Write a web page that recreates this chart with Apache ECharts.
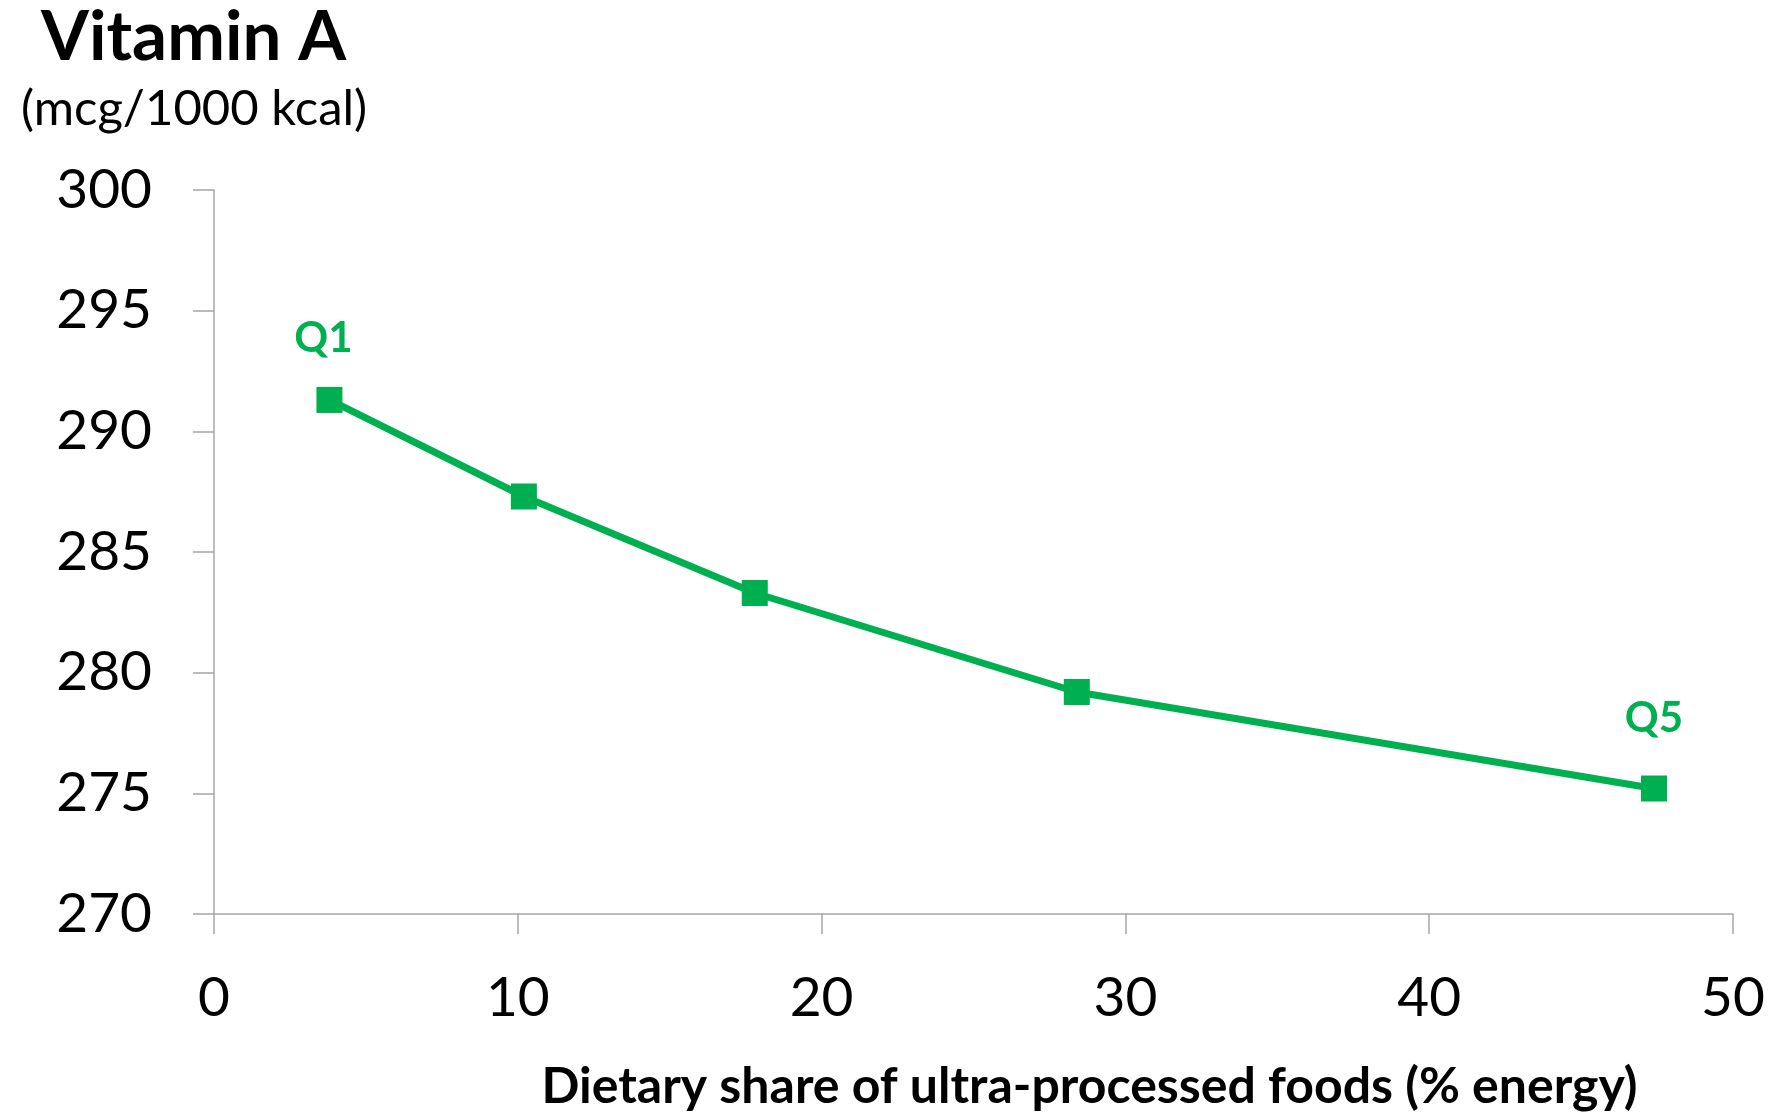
<!DOCTYPE html>
<html>
<head>
<meta charset="utf-8">
<script src="https://cdn.jsdelivr.net/npm/echarts@6/dist/echarts.min.js"></script>
<style>
  html, body { margin: 0; padding: 0; background: #ffffff; }
  #chart { width: 1776px; height: 1112px; }
</style>
</head>
<body>
<div id="chart"></div>
<script>
// Mean vitamin A density by quintile of ultra-processed food intake
const uppShare = [3.8, 10.2, 17.8, 28.4, 47.4];          // % of energy
const vitaminA = [291.3, 287.3, 283.3, 279.2, 275.2];     // mcg / 1000 kcal
const quintileLabels = ['Q1', '', '', '', 'Q5'];

const GREEN = '#00b050';
const FONT = 'Lato, "Open Sans", sans-serif';

const points = uppShare.map((x, i) => ({
  value: [x, vitaminA[i]],
  label: {
    show: quintileLabels[i] !== '',
    formatter: quintileLabels[i],
    offset: i === 0 ? [-6, 0] : [0, 0],
    distance: i === 0 ? 28 : 36
  }
}));

const chart = echarts.init(document.getElementById('chart'), null, { renderer: 'canvas' });

chart.setOption({
  backgroundColor: '#ffffff',
  animation: false,
  title: [
    {
      text: 'Vitamin A',
      left: 36, top: -2,
      textStyle: { fontFamily: FONT, fontWeight: 'bold', fontSize: 69, color: '#000' }
    },
    {
      text: '(mcg/1000 kcal)',
      left: 16, top: 80,
      textStyle: { fontFamily: FONT, fontWeight: 'normal', fontSize: 49, color: '#000' }
    }
  ],
  grid: {
    left: 214, right: 43, top: 190, bottom: 198,
    containLabel: false,
    outerBoundsMode: 'none'
  },
  xAxis: {
    type: 'value',
    min: 0, max: 50, interval: 10,
    name: 'Dietary share of ultra-processed foods (% energy)',
    nameLocation: 'middle',
    nameGap: 148,
    nameTextStyle: {
      fontFamily: FONT, fontWeight: 'bold', fontSize: 50, color: '#000',
      padding: [0, 0, 0, 232]
    },
    axisLine: { show: true, lineStyle: { color: '#a6a6a6', width: 1.5 } },
    axisTick: { show: true, inside: false, length: 20, lineStyle: { color: '#a6a6a6', width: 1.5 } },
    axisLabel: { fontFamily: FONT, fontSize: 55, color: '#000', margin: 57 },
    splitLine: { show: false }
  },
  yAxis: {
    type: 'value',
    min: 270, max: 300, interval: 5,
    axisLine: { show: true, lineStyle: { color: '#a6a6a6', width: 1.5 } },
    axisTick: { show: true, inside: false, length: 21, lineStyle: { color: '#a6a6a6', width: 1.5 } },
    axisLabel: { fontFamily: FONT, fontSize: 55, color: '#000', margin: 62 },
    splitLine: { show: false }
  },
  series: [
    {
      type: 'line',
      data: points,
      symbol: 'rect',
      symbolSize: 26,
      showAllSymbol: true,
      itemStyle: { color: GREEN },
      lineStyle: { color: GREEN, width: 7 },
      label: {
        position: 'top',
        color: GREEN,
        fontFamily: FONT,
        fontWeight: 'bold',
        fontSize: 42
      },
      emphasis: { disabled: true }
    }
  ]
});
</script>
</body>
</html>
